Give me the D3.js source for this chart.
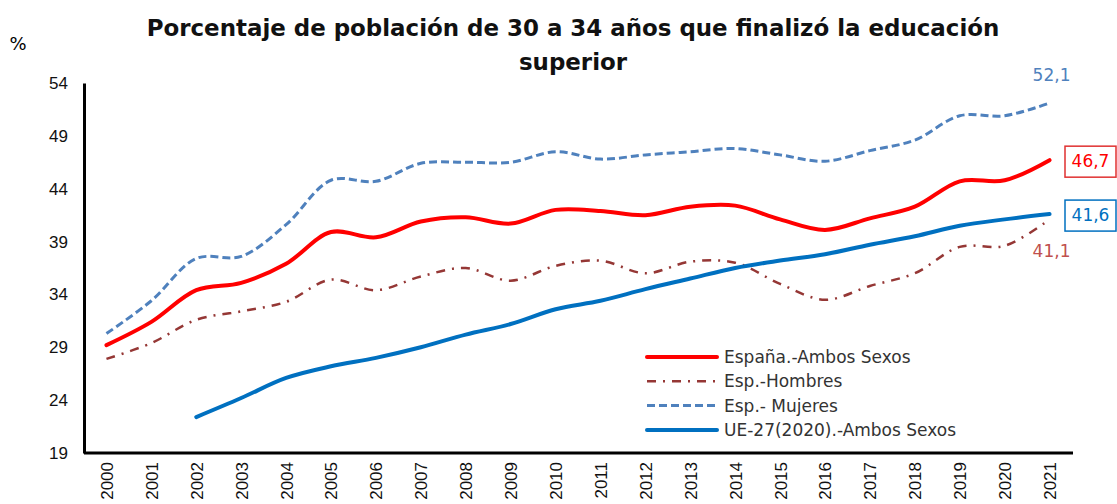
<!DOCTYPE html>
<html>
<head>
<meta charset="utf-8">
<script src="https://cdn.jsdelivr.net/npm/d3@7"></script>
<style>
  body { margin: 0; background: #fff; }
  svg { font-family: "Century Gothic", "DejaVu Sans", sans-serif; }
</style>
</head>
<body>
<svg id="chart" width="1117" height="504"></svg>
<script>
// years on the x axis
var years = d3.range(2000, 2022).map(String);
var yTicks = [19, 24, 29, 34, 39, 44, 49, 54];

// series values
var espanaAmbos = [29.2, 31.4, 34.4, 35.1, 36.9, 39.9, 39.4, 40.9, 41.3, 40.7, 42.0, 41.9, 41.5, 42.3, 42.4, 41.1, 40.1, 41.2, 42.3, 44.7, 44.8, 46.7];
var espHombres = [27.9, 29.4, 31.6, 32.4, 33.3, 35.4, 34.4, 35.7, 36.5, 35.3, 36.7, 37.2, 36.0, 37.1, 37.0, 35.0, 33.5, 34.8, 36.0, 38.5, 38.6, 41.1];
var espMujeres = [30.3, 33.4, 37.4, 37.6, 40.6, 44.8, 44.7, 46.4, 46.5, 46.5, 47.5, 46.8, 47.2, 47.5, 47.8, 47.2, 46.6, 47.6, 48.6, 50.9, 50.9, 52.1];
var ue27 = [null, null, 22.4, 24.2, 26.1, 27.2, 28.0, 29.0, 30.2, 31.2, 32.6, 33.4, 34.5, 35.5, 36.5, 37.2, 37.8, 38.7, 39.5, 40.5, 41.1, 41.6];

var seriesNames = ["España.-Ambos Sexos", "Esp.-Hombres", "Esp.- Mujeres", "UE-27(2020).-Ambos Sexos"];
var seriesValues = [espanaAmbos, espHombres, espMujeres, ue27];
var seriesColors = ["#ff0000", "#953735", "#4f81bd", "#0070c0"];
var seriesWidths = [4, 2.5, 3, 4];
var seriesDash = [null, "9,7,2,7", "8,4", null];

var svg = d3.select("#chart");
var margin = { left: 84, right: 45, top: 83, bottom: 51 };
var width = 1117, height = 504;

var x = d3.scalePoint()
          .domain(years)
          .range([margin.left, width - margin.right])
          .padding(0.5);
var y = d3.scaleLinear()
          .domain([19, 54])
          .range([height - margin.bottom, margin.top]);

// title, shrunk to the width it has in the original
var t1 = svg.append("text")
    .attr("x", 573).attr("y", 36)
    .attr("text-anchor", "middle")
    .attr("font-weight", "bold").attr("font-size", "23px")
    .attr("fill", "#111")
    .text("Porcentaje de población de 30 a 34 años que finalizó la educación");
var fs = 23 * 853 / t1.node().getComputedTextLength();
t1.attr("font-size", fs + "px");
svg.append("text")
    .attr("x", 573).attr("y", 70)
    .attr("text-anchor", "middle")
    .attr("font-weight", "bold").attr("font-size", fs + "px")
    .attr("fill", "#111")
    .text("superior");

svg.append("text")
    .attr("x", 18).attr("y", 50)
    .attr("text-anchor", "middle")
    .attr("font-size", "18px")
    .text("%");

// y axis
var yAxis = svg.append("g")
    .attr("transform", "translate(" + margin.left + ",0)")
    .call(d3.axisLeft(y).tickValues(yTicks).tickSize(0).tickPadding(16));
yAxis.select(".domain").attr("stroke", "#000").attr("stroke-width", 3);
yAxis.selectAll("text").attr("font-size", "17px").attr("fill", "#111")
     .attr("font-family", "inherit");

// x axis
var xAxis = svg.append("g")
    .attr("transform", "translate(0," + (height - margin.bottom) + ")")
    .call(d3.axisBottom(x).tickSize(0).tickPadding(0));
xAxis.select(".domain")
     .attr("d", "M" + margin.left + ",0H" + (width - margin.right + 1))
     .attr("stroke", "#000").attr("stroke-width", 3);
xAxis.selectAll("text")
     .attr("font-size", "17px").attr("fill", "#111")
     .attr("font-family", "inherit")
     .attr("text-anchor", "end")
     .attr("transform", "rotate(-90)")
     .attr("x", -9).attr("y", 0).attr("dy", "0.35em");

// lines
var line = d3.line()
             .x(d => x(d.year))
             .y(d => y(d.v))
             .curve(d3.curveCatmullRom);

seriesValues.forEach(function(vals, i) {
  var pts = vals.map((v, j) => ({ year: years[j], v: v })).filter(d => d.v != null);
  svg.append("path")
      .attr("d", line(pts))
      .attr("fill", "none")
      .attr("stroke", seriesColors[i])
      .attr("stroke-width", seriesWidths[i])
      .attr("stroke-dasharray", seriesDash[i])
      .attr("stroke-linecap", seriesDash[i] ? "butt" : "round");
});

// legend
var legend = svg.append("g").attr("transform", "translate(647,357)");
seriesNames.forEach(function(name, i) {
  var row = legend.append("g").attr("transform", "translate(0," + (i * 24.3) + ")");
  row.append("line")
      .attr("x1", 0).attr("x2", 70)
      .attr("stroke", seriesColors[i])
      .attr("stroke-width", seriesWidths[i])
      .attr("stroke-dasharray", seriesDash[i])
      .attr("stroke-linecap", seriesDash[i] ? "butt" : "round");
  row.append("text")
      .attr("x", 77).attr("y", 0).attr("dy", "0.35em")
      .attr("font-size", "17px").attr("fill", "#333")
      .text(name);
});

// end labels
var last = years[years.length - 1];
function fmt(v) { return String(v).replace(".", ","); }

svg.append("text")
    .attr("x", x(last) + 2).attr("y", y(espMujeres[21]) - 22)
    .attr("text-anchor", "middle")
    .attr("font-size", "17px").attr("fill", "#4f81bd")
    .text(fmt(espMujeres[21]));
svg.append("text")
    .attr("x", x(last) + 2).attr("y", y(espHombres[21]) + 38)
    .attr("text-anchor", "middle")
    .attr("font-size", "17px").attr("fill", "#c0504d")
    .text(fmt(espHombres[21]));

[[espanaAmbos[21], "#e03131", "#ff0000"], [ue27[21], "#0070c0", "#0070c0"]].forEach(function(b) {
  var cy = y(b[0]) + 1;
  svg.append("rect")
      .attr("x", 1065).attr("y", cy - 15)
      .attr("width", 51).attr("height", 31)
      .attr("fill", "#fff")
      .attr("stroke", b[1]).attr("stroke-width", 1.5);
  svg.append("text")
      .attr("x", 1090.5).attr("y", cy).attr("dy", "0.35em")
      .attr("text-anchor", "middle")
      .attr("font-size", "17px").attr("fill", b[2])
      .text(fmt(b[0]));
});
</script>
</body>
</html>
